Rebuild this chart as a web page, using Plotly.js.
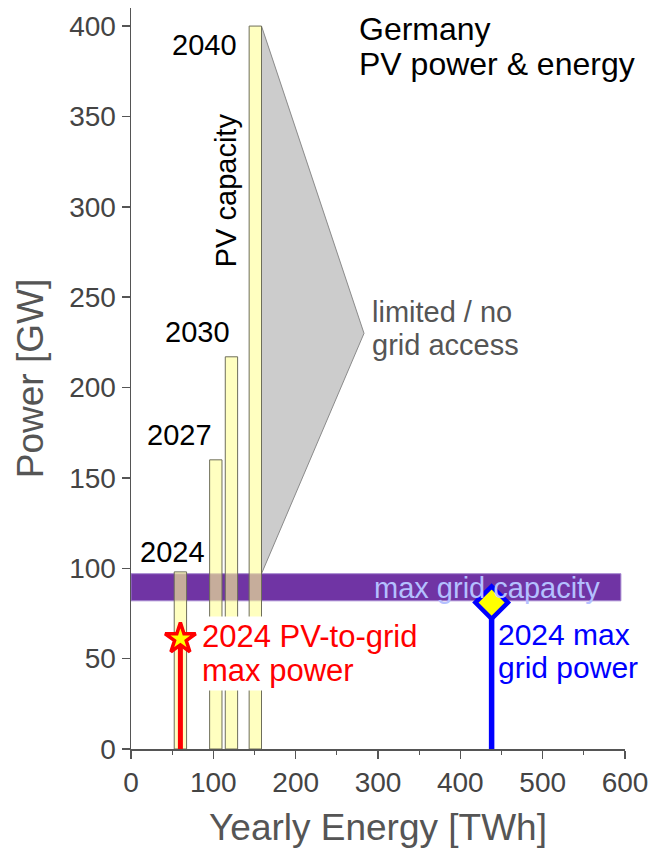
<!DOCTYPE html>
<html>
<head>
<meta charset="utf-8">
<script src="https://cdn.plot.ly/plotly-3.0.1.min.js"></script>
<style>html,body{margin:0;padding:0;background:#fff;}#chart{width:651px;height:848px;}</style>
</head>
<body>
<div id="chart"></div>
<script>
// ---- data ----
const years = ["2024", "2027", "2030", "2040"];
const yearlyEnergyTWh = [60, 103, 122, 151];      // bar centres (TWh)
const pvCapacityGW = [98, 160, 217, 400];          // PV capacity (GW)
const barWidthTWh = 15;
const gridCapacityGW = [82, 97];                   // max grid capacity band
const gridBandEnergy = [0, 595];
const limitedTip = [283, 230];                     // tip of "limited / no grid access" wedge
const pvToGridEnergy = [60];                       // 2024 PV-to-grid
const pvToGridPower = [61];
const maxGridEnergy = [438];                       // 2024 max grid power
const maxGridPower = [81];
const xTicks = [0, 100, 200, 300, 400, 500, 600];
const yTicks = [0, 50, 100, 150, 200, 250, 300, 350, 400];

const FONT = "Liberation Sans, Arial, sans-serif";

const traces = [
  {
    type: "bar", x: yearlyEnergyTWh, y: pvCapacityGW, width: barWidthTWh,
    marker: {color: "rgba(255,255,150,0.6)", line: {color: "#6e6e5a", width: 1}},
    hoverinfo: "skip", showlegend: false
  },
  {
    type: "scatter", mode: "lines", x: [pvToGridEnergy[0], pvToGridEnergy[0]], y: [0, pvToGridPower[0]],
    line: {color: "#ff0000", width: 5}, showlegend: false, hoverinfo: "skip"
  },
  {
    type: "scatter", mode: "lines", x: [maxGridEnergy[0], maxGridEnergy[0]], y: [0, maxGridPower[0]],
    line: {color: "#0000ff", width: 5.5}, showlegend: false, hoverinfo: "skip"
  },
  {
    type: "scatter", mode: "markers", x: pvToGridEnergy, y: pvToGridPower,
    marker: {symbol: "star", size: 23, color: "#ffff00", line: {color: "#ff0000", width: 3.5}},
    showlegend: false, hoverinfo: "skip"
  },
  {
    type: "scatter", mode: "markers", x: maxGridEnergy, y: maxGridPower,
    marker: {symbol: "diamond", size: 25, color: "#ffff00", line: {color: "#0000ff", width: 4.5}},
    showlegend: false, hoverinfo: "skip"
  }
];

const lastIdx = pvCapacityGW.length - 1;
const wedgeX = yearlyEnergyTWh[lastIdx] + barWidthTWh / 2;
const shapes = [
  {
    type: "path", layer: "below", xref: "x", yref: "y",
    path: `M ${wedgeX},${pvCapacityGW[lastIdx]} L ${limitedTip[0]},${limitedTip[1]} L ${wedgeX},${gridCapacityGW[1]} Z`,
    fillcolor: "#cccccc", line: {color: "#8a8a8a", width: 1}
  },
  {
    type: "rect", layer: "below", xref: "x", yref: "y",
    x0: gridBandEnergy[0], x1: gridBandEnergy[1], y0: gridCapacityGW[0], y1: gridCapacityGW[1],
    fillcolor: "#7034a4", line: {color: "#a486cf", width: 1}
  }
];

// helper: annotation vertical position from pixel row (layout only)
const PY = py => (749 - py) / (741 / 410);

const annotations = [];
const yearLabelPos = [[91.8, 109], [100.3, 173.5], [122.2, 231], [130.7, 389.4]];
years.forEach((yr, i) => {
  annotations.push({x: yearLabelPos[i][0], y: yearLabelPos[i][1], xref: "x", yref: "y", text: yr,
    showarrow: false, xanchor: "right", yanchor: "middle", font: {family: FONT, size: 29, color: "#000"}});
});
function txt(x, py, text, size, color, extra) {
  return Object.assign({x: x, y: PY(py), xref: "x", yref: "y", text: text, showarrow: false,
    xanchor: "left", yanchor: "middle", font: {family: FONT, size: size, color: color}}, extra || {});
}
annotations.push(
  {x: 115, y: 309, xref: "x", yref: "y", text: "PV capacity", textangle: -90, showarrow: false,
   font: {family: FONT, size: 29, color: "#000"}},
  txt(274, 29, "Germany", 32, "#000"),
  txt(274, 64, "PV power &amp; energy", 32, "#000"),
  txt(290, 312, "limited / no", 29, "#555555"),
  txt(290, 345, "grid access", 29, "#555555"),
  txt(292.5, 588, "max grid capacity", 29, "#b4c0ff"),
  txt(82, 636, "2024 PV-to-grid", 31, "#ff0000", {bgcolor: "#ffffff", borderpad: 2}),
  txt(82, 670, "max power", 31, "#ff0000", {bgcolor: "#ffffff", borderpad: 2}),
  txt(443, 634, "2024 max", 30, "#0000ff"),
  txt(443, 667, "grid power", 30, "#0000ff")
);

const layout = {
  width: 651, height: 848,
  margin: {l: 131, r: 26, t: 8, b: 99},
  paper_bgcolor: "#ffffff", plot_bgcolor: "#ffffff",
  showlegend: false,
  font: {family: FONT, color: "#444"},
  xaxis: {
    range: [0, 600], tickvals: xTicks, ticktext: xTicks.map(String),
    showgrid: false, zeroline: false, showline: true, linecolor: "#555", linewidth: 1.5,
    ticks: "outside", ticklen: 8, tickwidth: 1.5, tickcolor: "#555",
    minor: {dtick: 50, ticks: "outside", ticklen: 4, tickwidth: 1, tickcolor: "#555", showgrid: false},
    tickfont: {family: FONT, size: 28, color: "#444"},
    title: {text: "Yearly Energy [TWh]", font: {family: FONT, size: 37, color: "#555"}, standoff: 18}
  },
  yaxis: {
    range: [0, 410], tickvals: yTicks, ticktext: yTicks.map(String),
    showgrid: false, zeroline: false, showline: true, linecolor: "#555", linewidth: 1.5,
    ticks: "outside", ticklen: 8, tickwidth: 1.5, tickcolor: "#555",
    tickfont: {family: FONT, size: 28, color: "#444"},
    title: {text: "Power [GW]", font: {family: FONT, size: 37, color: "#555"}, standoff: 14}
  },
  bargap: 0,
  shapes: shapes,
  annotations: annotations
};

Plotly.newPlot("chart", traces, layout, {displayModeBar: false, staticPlot: true});
</script>
</body>
</html>
